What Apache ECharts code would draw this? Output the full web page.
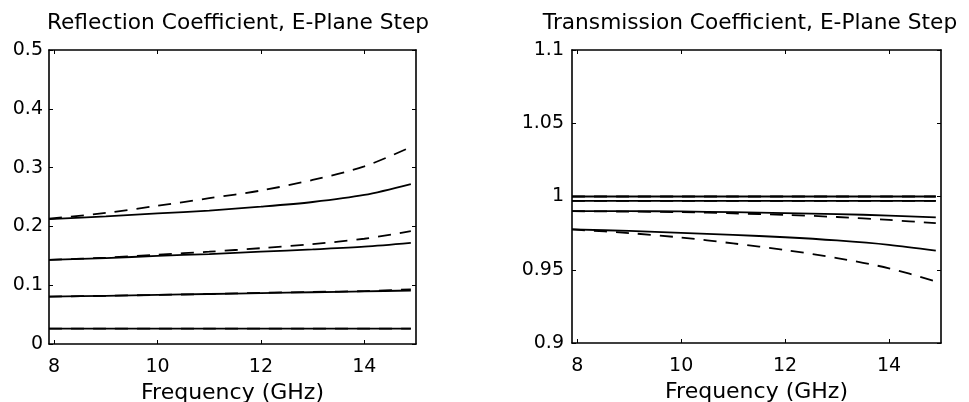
<!DOCTYPE html>
<html>
<head>
<meta charset="utf-8">
<script src="https://cdn.jsdelivr.net/npm/echarts@6/dist/echarts.min.js"></script>
<style>
  html, body { margin: 0; padding: 0; background: #fff; }
  #chart { width: 969px; height: 402px; }
</style>
</head>
<body>
<div id="chart"></div>
<script>
// frequency samples (GHz)
var freq = [7.9, 9, 10, 11, 12, 13, 14, 14.9]
var xTicks = [8, 10, 12, 14]

// reflection coefficient, solid / dashed pairs
var reflSolid1 = [0.026, 0.026, 0.026, 0.026, 0.026, 0.026, 0.026, 0.026]
var reflDash1 = [0.026, 0.026, 0.026, 0.026, 0.026, 0.026, 0.026, 0.026]
var reflSolid2 = [0.0805, 0.082, 0.0835, 0.085, 0.0865, 0.088, 0.0895, 0.091]
var reflDash2 = [0.0805, 0.082, 0.0835, 0.085, 0.087, 0.0885, 0.090, 0.093]
var reflSolid3 = [0.143, 0.146, 0.150, 0.153, 0.157, 0.161, 0.1655, 0.172]
var reflDash3 = [0.143, 0.147, 0.152, 0.157, 0.163, 0.170, 0.179, 0.192]
var reflSolid4 = [0.2125, 0.217, 0.222, 0.227, 0.2335, 0.2415, 0.2535, 0.272]
var reflDash4 = [0.213, 0.223, 0.235, 0.248, 0.261, 0.279, 0.302, 0.335]

// transmission coefficient, solid / dashed pairs
var transSolid1 = [1.0, 1.0, 1.0, 1.0, 1.0, 1.0, 1.0, 1.0]
var transDash1 = [1.0, 1.0, 1.0, 1.0, 1.0, 1.0, 1.0, 1.0]
var transSolid2 = [0.997, 0.997, 0.997, 0.997, 0.997, 0.997, 0.997, 0.997]
var transDash2 = [0.997, 0.997, 0.997, 0.997, 0.997, 0.997, 0.997, 0.997]
var transSolid3 = [0.990, 0.990, 0.9898, 0.9893, 0.9887, 0.988, 0.987, 0.9858]
var transDash3 = [0.990, 0.9897, 0.9893, 0.9885, 0.9875, 0.986, 0.984, 0.9818]
var transSolid4 = [0.9775, 0.9765, 0.9752, 0.9738, 0.9722, 0.970, 0.967, 0.963]
var transDash4 = [0.9775, 0.975, 0.972, 0.968, 0.9635, 0.958, 0.951, 0.942]

var font = 'DejaVu Sans, Liberation Sans, Arial, sans-serif'

function pairs(vals) {
  return freq.map(function(f, i) { return [f, vals[i]] })
}

function line(vals, grid, dashed) {
  return {
    type: 'line',
    xAxisIndex: grid * 2,
    yAxisIndex: grid * 2,
    data: pairs(vals),
    smooth: 0.3,
    symbol: 'none',
    silent: true,
    lineStyle: {
      color: '#000',
      width: 1.8,
      type: dashed ? [13, 9] : 'solid'
    }
  }
}

function xAxes(grid) {
  var base = {
    type: 'value',
    gridIndex: grid,
    min: 7.9,
    max: 15,
    splitLine: { show: false },
    axisLine: { show: true, onZero: false, lineStyle: { color: '#000', width: 1.6 } },
    axisTick: { show: true, inside: true, length: 4, customValues: xTicks, lineStyle: { color: '#000' } }
  }
  var bottom = Object.assign({}, base, {
    position: 'bottom',
    name: 'Frequency (GHz)',
    nameLocation: 'middle',
    nameGap: 35,
    nameTextStyle: { color: '#000', fontSize: 22, fontFamily: font },
    axisLabel: { color: '#000', fontSize: 19, fontFamily: font, margin: 14, customValues: xTicks }
  })
  var top = Object.assign({}, base, {
    position: 'top',
    axisLabel: { show: false }
  })
  return [bottom, top]
}

function yAxes(grid, min, max, step, gap) {
  var base = {
    type: 'value',
    gridIndex: grid,
    min: min,
    max: max,
    interval: step,
    splitLine: { show: false },
    axisLine: { show: true, onZero: false, lineStyle: { color: '#000', width: 1.6 } },
    axisTick: { show: true, inside: true, length: 4, lineStyle: { color: '#000' } }
  }
  var left = Object.assign({}, base, {
    position: 'left',
    axisLabel: { color: '#000', fontSize: 19, fontFamily: font, margin: gap }
  })
  var right = Object.assign({}, base, {
    position: 'right',
    axisLabel: { show: false }
  })
  return [left, right]
}

var chart = echarts.init(document.getElementById('chart'))
chart.setOption({
  animation: false,
  backgroundColor: '#fff',
  title: [
    {
      text: 'Reflection Coefficient, E-Plane Step',
      left: 233,
      textAlign: 'center',
      top: 7,
      textStyle: { color: '#000', fontSize: 21.7, fontWeight: 'normal', fontFamily: font }
    },
    {
      text: 'Transmission Coefficient, E-Plane Step',
      left: 745,
      textAlign: 'center',
      top: 7,
      textStyle: { color: '#000', fontSize: 21.7, fontWeight: 'normal', fontFamily: font }
    }
  ],
  grid: [
    { left: 49, top: 50, width: 367, height: 294, outerBoundsMode: 'none' },
    { left: 572, top: 50, width: 369, height: 293, outerBoundsMode: 'none' }
  ],
  xAxis: xAxes(0).concat(xAxes(1)),
  yAxis: yAxes(0, 0, 0.5, 0.1, 6).concat(yAxes(1, 0.9, 1.1, 0.05, 8)),
  series: [
    line(reflSolid1, 0, false), line(reflDash1, 0, true),
    line(reflSolid2, 0, false), line(reflDash2, 0, true),
    line(reflSolid3, 0, false), line(reflDash3, 0, true),
    line(reflSolid4, 0, false), line(reflDash4, 0, true),
    line(transSolid1, 1, false), line(transDash1, 1, true),
    line(transSolid2, 1, false), line(transDash2, 1, true),
    line(transSolid3, 1, false), line(transDash3, 1, true),
    line(transSolid4, 1, false), line(transDash4, 1, true)
  ]
})
</script>
</body>
</html>
